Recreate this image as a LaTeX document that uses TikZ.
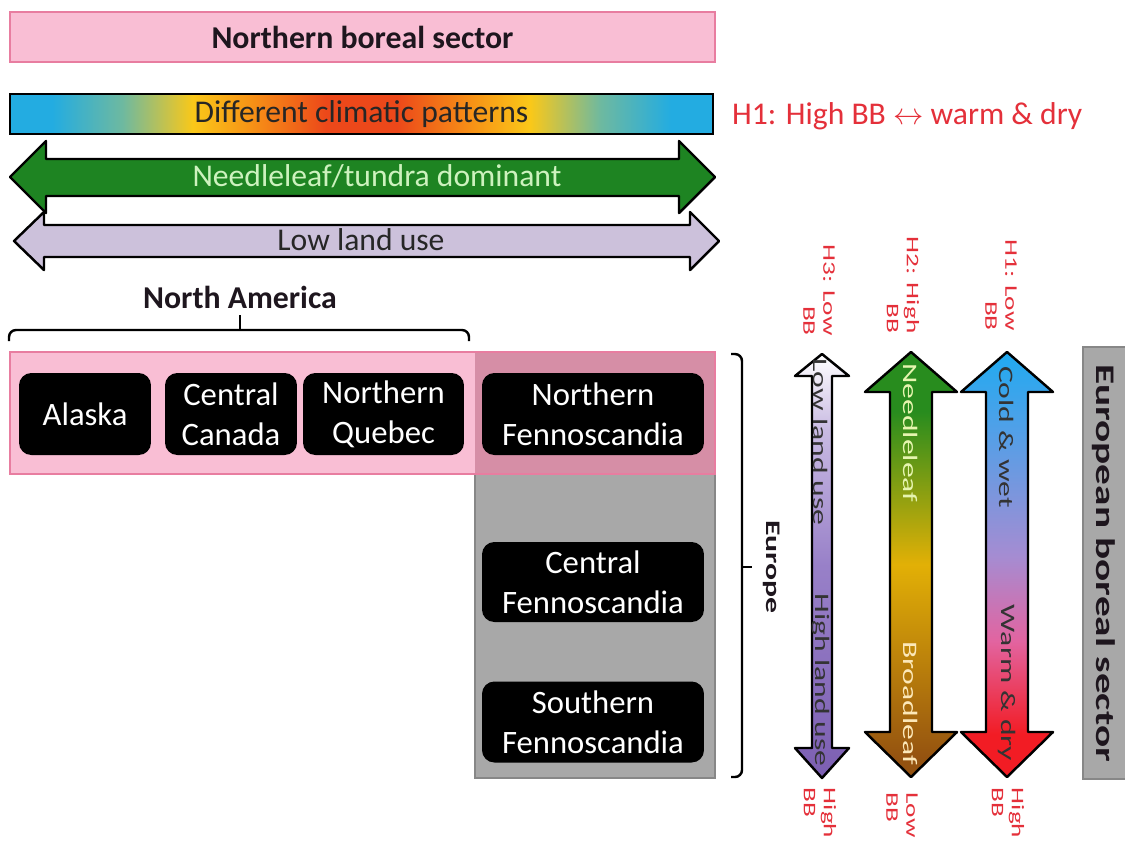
\documentclass[tikz,border=0pt]{standalone}
\usepackage{fontspec}
\setmainfont{Carlito}

% Colours
\definecolor{boreal}{RGB}{249,190,212}
\definecolor{borealline}{RGB}{232,125,160}
\definecolor{overlap}{RGB}{214,142,166}
\definecolor{eugray}{RGB}{168,168,168}
\definecolor{eugrayline}{RGB}{135,135,135}
\definecolor{needle}{RGB}{30,132,34}
\definecolor{needletext}{RGB}{205,242,190}
\definecolor{landuse}{RGB}{204,193,219}
\definecolor{hyp}{RGB}{228,48,58}
\definecolor{titletext}{RGB}{30,22,30}
% climate bar
\definecolor{clcyan}{RGB}{35,172,225}
\definecolor{clteal}{RGB}{110,185,160}
\definecolor{clyellow}{RGB}{250,200,25}
\definecolor{clorange}{RGB}{247,148,22}
\definecolor{clred}{RGB}{236,72,26}
% vertical arrows
\definecolor{luwhite}{RGB}{255,255,255}
\definecolor{lulight}{RGB}{200,186,226}
\definecolor{lumid}{RGB}{152,128,200}
\definecolor{ludark}{RGB}{124,95,178}
\definecolor{vgreen}{RGB}{40,140,30}
\definecolor{vochre}{RGB}{226,176,6}
\definecolor{vbrown}{RGB}{148,82,16}
\definecolor{hblue}{RGB}{32,170,240}
\definecolor{hblue2}{RGB}{80,160,232}
\definecolor{hlav}{RGB}{165,140,210}
\definecolor{hpink}{RGB}{226,100,160}
\definecolor{hred}{RGB}{242,28,36}
\definecolor{leaftext}{RGB}{230,245,175}
\definecolor{broadtext}{RGB}{252,232,185}

\pgfdeclarehorizontalshading{climate}{100bp}{color(0bp)=(clcyan); color(28bp)=(clcyan);
  color(33bp)=(clteal); color(38bp)=(clyellow); color(42bp)=(clorange); color(47.5bp)=(clred);
  color(52.5bp)=(clred); color(58bp)=(clorange); color(62bp)=(clyellow); color(67bp)=(clteal);
  color(72bp)=(clcyan); color(100bp)=(clcyan)}
\pgfdeclareverticalshading{landgrad}{100bp}{color(0bp)=(ludark); color(25bp)=(ludark);
  color(50bp)=(lumid); color(66bp)=(lulight); color(75bp)=(luwhite); color(100bp)=(luwhite)}
\pgfdeclareverticalshading{leafgrad}{100bp}{color(0bp)=(vbrown); color(27bp)=(vbrown);
  color(50bp)=(vochre); color(68bp)=(vgreen); color(100bp)=(vgreen)}
\pgfdeclareverticalshading{heatgrad}{100bp}{color(0bp)=(hred); color(30bp)=(hred);
  color(41bp)=(hpink); color(51bp)=(hlav); color(66bp)=(hblue2); color(75bp)=(hblue); color(100bp)=(hblue)}

\begin{document}
\begin{tikzpicture}[x=0.02cm, y=-0.02cm]
    % Styles
    \tikzstyle{region} = [rectangle, fill=black, text=white, rounded corners=7pt, align=center, inner sep=0pt, font=\fontsize{18.6}{22.8}\selectfont]
    \tikzstyle{bigarrow} = [draw=black, line width=1.4pt, line join=round]
    \tikzstyle{title} = [font=\fontsize{18.1}{21}\selectfont\bfseries, text=titletext]
    \tikzstyle{plain} = [font=\fontsize{18}{21}\selectfont]
    \tikzstyle{sidetext} = [rotate=-90, yscale=0.65]
    \tikzstyle{hyp} = [text=hyp, font=\fontsize{15.5}{17.5}\selectfont, sidetext]
    \tikzstyle{bracket} = [line width=1.4pt, rounded corners=4pt]

    \useasboundingbox (0,0) rectangle (1125,846);

    % Top bars
    \node [draw=borealline, fill=boreal, line width=1.1pt, minimum width=14.1cm, minimum height=1cm, title] (sector) at (362.5,37) {Northern boreal sector};
    \node [draw=black, line width=1.3pt, shade, shading=climate, minimum width=14.06cm, minimum height=0.8cm, plain, text=black!85] (climate) at (361.5,114) {Different climatic patterns};
    \node [plain, text=hyp, anchor=west] (h1text) at (726,116) {H1: High BB $\leftrightarrow$ warm \& dry};

    % Horizontal arrows
    \draw [bigarrow, fill=landuse] (14,241) -- (44,212) -- (44,225) -- (690,225) -- (690,212) -- (719,241) -- (690,270) -- (690,257) -- (44,257) -- (44,270) -- cycle;
    \draw [bigarrow, fill=needle] (10,177) -- (46,141) -- (46,159) -- (679,159) -- (679,141) -- (715,177) -- (679,213) -- (679,196) -- (46,196) -- (46,213) -- cycle;
    \node [plain, text=needletext] (needletext) at (377,176) {Needleleaf/tundra dominant};
    \node [plain, text=black!85] (lowuse) at (361,240) {Low land use};

    % Regions
    \draw [eugrayline, fill=eugray, line width=1pt] (475,352) rectangle (715,778);
    \fill [boreal] (10,352) rectangle (475,474);
    \fill [overlap] (475,352) rectangle (715,474);
    \draw [borealline, line width=1.3pt] (10,352) rectangle (715,474);

    \node [region, minimum width=2.64cm, minimum height=1.64cm] (alaska) at (85,414) {Alaska};
    \node [region, minimum width=2.64cm, minimum height=1.64cm] (canada) at (231,414) {Central\\Canada};
    \node [region, minimum width=3.22cm, minimum height=1.64cm] (quebec) at (383.5,414) {Northern\\Quebec};
    \node [region, minimum width=4.44cm, minimum height=1.64cm] (nfenno) at (593,414) {Northern\\Fennoscandia};
    \node [region, minimum width=4.44cm, minimum height=1.6cm] (cfenno) at (593,582) {Central\\Fennoscandia};
    \node [region, minimum width=4.44cm, minimum height=1.62cm] (sfenno) at (593,722) {Southern\\Fennoscandia};

    % Brackets
    \coordinate (na-left) at (9,341);
    \coordinate (na-right) at (469,341);
    \coordinate (na-mid) at (240,330);
    \coordinate (na-tip) at (240,315);
    \draw [bracket] (na-left) |- (na-mid) -| (na-right);
    \draw [line width=1.4pt] (na-mid) -- (na-tip);
    \node [title] (america) at (240,297) {North America};

    \coordinate (eu-top) at (731,354);
    \coordinate (eu-bottom) at (731,777);
    \coordinate (eu-mid) at (742,567);
    \coordinate (eu-tip) at (752,567);
    \draw [bracket] (eu-top) -| (eu-mid) |- (eu-bottom);
    \draw [line width=1.4pt] (eu-mid) -- (eu-tip);
    \node [title, sidetext] (europe) at (772,567) {Europe};

    % Vertical arrows
    \shadedraw [bigarrow, shading=landgrad] (822,354) -- (849,376) -- (832,376) -- (832,748) -- (849,748) -- (822,778) -- (795,748) -- (812,748) -- (812,376) -- (795,376) -- cycle;
    \shadedraw [bigarrow, shading=leafgrad] (911,352) -- (957,392) -- (932,392) -- (932,732) -- (957,732) -- (911,777) -- (865,732) -- (890,732) -- (890,392) -- (865,392) -- cycle;
    \shadedraw [bigarrow, shading=heatgrad] (1007,352) -- (1053,392) -- (1028,392) -- (1028,732) -- (1053,732) -- (1007,777) -- (961,732) -- (986,732) -- (986,392) -- (961,392) -- cycle;

    \node [plain, sidetext, text=black!80] (lowland) at (821,442) {Low land use};
    \node [plain, sidetext, text=black!80] (highland) at (821,680) {High land use};
    \node [plain, sidetext, text=leaftext] (needle) at (911,433) {Needleleaf};
    \node [plain, sidetext, text=broadtext] (broad) at (911,703) {Broadleaf};
    \node [plain, sidetext, text=black!80] (cold) at (1007,437) {Cold \& wet};
    \node [plain, sidetext, text=black!80] (warm) at (1007,683) {Warm \& dry};

    % Hypotheses
    \node [hyp, align=right] (h3top) at (819,290) {H3: Low\\BB};
    \node [hyp, align=right] (h2top) at (903,285) {H2: High\\BB};
    \node [hyp, align=right] (h1top) at (1001,285) {H1: Low\\BB};
    \node [hyp, align=left] (h3bot) at (820,813) {High\\BB};
    \node [hyp, align=left] (h2bot) at (902,815) {Low\\BB};
    \node [hyp, align=left] (h1bot) at (1008,813) {High\\BB};

    % European sector
    \draw [eugrayline, fill=eugray, line width=1pt] (1083,347) rectangle (1135,779);
    \node [font=\fontsize{23.5}{28}\selectfont\bfseries, text=titletext, sidetext] (eusector) at (1104,563) {European boreal sector};
\end{tikzpicture}
\end{document}
